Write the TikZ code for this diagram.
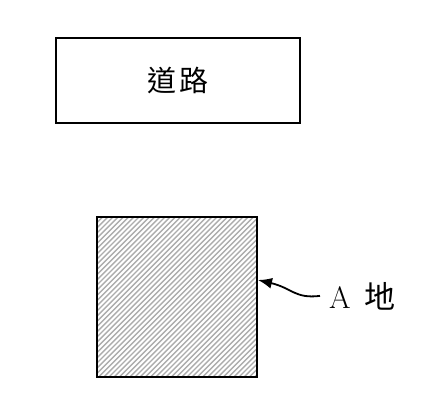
\documentclass[tikz,border=0pt]{standalone}
\usepackage{fontspec}
\newfontfamily\cjk{Noto Sans CJK TC}
\usetikzlibrary{arrows.meta}
\begin{document}
\begin{tikzpicture}[x=1pt,y=-1pt,
  box/.style={draw=black, line width=1.8pt},
  lbl/.style={font=\fontsize{29}{33}\selectfont, inner sep=0pt}]
  \useasboundingbox (0,0) rectangle (421,410);
  % road
  \draw[box] (56,38) rectangle (300,123);
  \node[lbl] (road) at (178,80) {\cjk 道\hspace{0.12em}路};

  % hatched plot
  \begin{scope}
    \clip (97,217) rectangle (257,377);
    \foreach \s in {0,5.2,...,340} {
      \draw[gray!65, line width=1.4pt] (97+\s-170,377) -- (97+\s,207);
    }
  \end{scope}
  \draw[box] (97,217) rectangle (257,377);
  \coordinate (plot) at (258,280);

  % label and arrow
  \node[lbl, font=\fontsize{31}{35}\selectfont, anchor=base west] (site) at (329,308) {A\hspace{0.45em}\cjk 地};
  \draw[line width=1.8pt, -{Latex[length=14pt,width=11pt]}]
    (site.west) ++(-9,0) .. controls (295,299) and (292,288) .. (plot);
\end{tikzpicture}
\end{document}
